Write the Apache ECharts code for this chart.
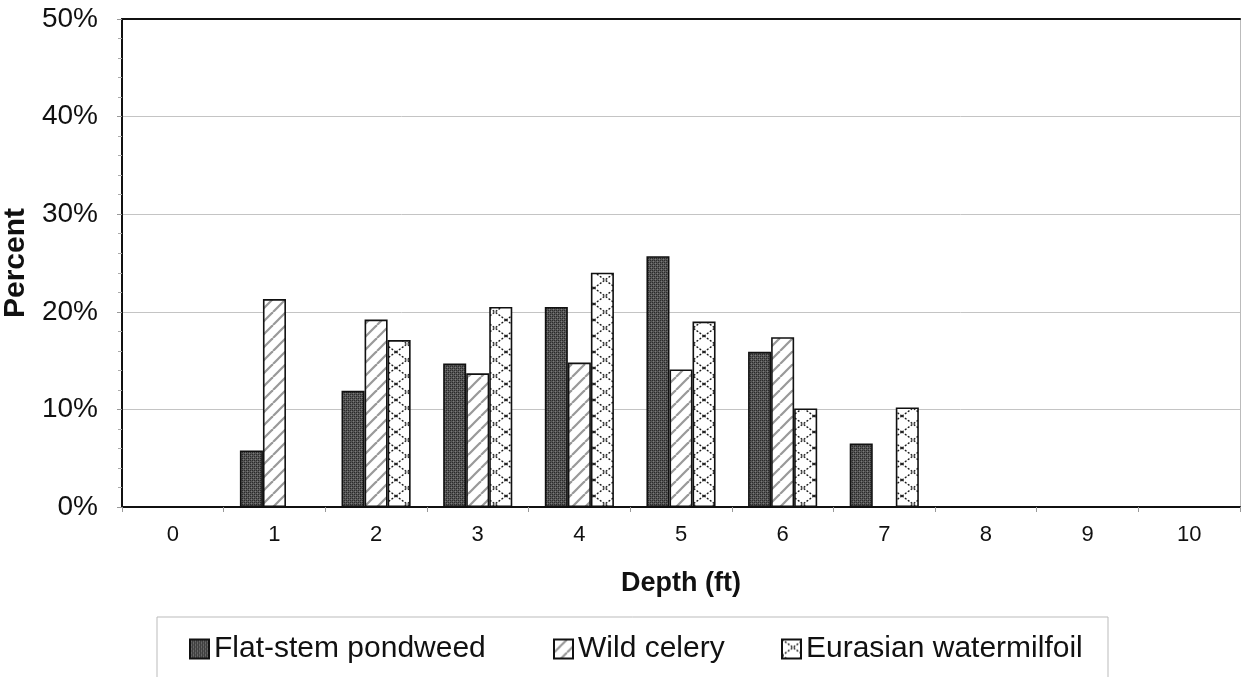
<!DOCTYPE html>
<html><head><meta charset="utf-8">
<script src="https://cdn.jsdelivr.net/npm/echarts@6/dist/echarts.min.js"></script>
<style>html,body{margin:0;padding:0;background:#fff}#c{width:1242px;height:677px}</style>
</head><body><div id="c"></div>
<script>
const categories = ['0','1','2','3','4','5','6','7','8','9','10'];
const flatStem = [0, 5.8, 11.9, 14.7, 20.5, 25.7, 15.9, 6.5, 0, 0, 0];
const wildCelery = [0, 21.3, 19.2, 13.7, 14.8, 14.1, 17.4, 0, 0, 0, 0];
const eurasian = [0, 0, 17.1, 20.5, 24.0, 19.0, 10.1, 10.2, 0, 0, 0];
const seriesNames = ['Flat-stem pondweed', 'Wild celery', 'Eurasian watermilfoil'];
const yTicks = [0, 10, 20, 30, 40, 50];

function mk(w, h, draw) { const c = document.createElement('canvas'); c.width = w; c.height = h; draw(c.getContext('2d'), w, h); return c; }
const darkPat = mk(4, 4, (g) => {
  g.fillStyle = '#555'; g.fillRect(0,0,4,4);
  g.fillStyle = '#2a2a2a'; g.fillRect(0,0,1,1); g.fillRect(2,2,1,1); g.fillRect(2,0,1,1); g.fillRect(0,2,1,1);
  g.fillStyle = '#7a7a7a'; g.fillRect(1,1,1,1); g.fillRect(3,3,1,1);
});
const diagPat = mk(13, 13, (g, w, h) => {
  g.fillStyle = '#fff'; g.fillRect(0,0,w,h);
  g.strokeStyle = '#999'; g.lineWidth = 2.2;
  for (let k = -1; k <= 1; k++) { g.beginPath(); g.moveTo(k*w, h); g.lineTo(k*w + w, 0); g.stroke(); }
});
const crossPat = mk(22, 16, (g, w, h) => {
  g.fillStyle = '#fff'; g.fillRect(0,0,w,h);
  g.strokeStyle = '#1a1a1a'; g.lineWidth = 1.4; g.setLineDash([2, 1.6]);
  g.beginPath(); g.moveTo(0,0); g.lineTo(w,h); g.stroke();
  g.beginPath(); g.moveTo(w,0); g.lineTo(0,h); g.stroke();
});

const chart = echarts.init(document.getElementById('c'));
const font = 'Liberation Sans, Arial, sans-serif';
function bar(name, data, pat) {
  return { name, type: 'bar', data, barGap: '0%', barCategoryGap: '32%',
    itemStyle: { color: { image: pat, repeat: 'repeat' }, borderColor: '#111', borderWidth: 1.6 } };
}
function leg(name, left) {
  return { data: [name], left, top: 634, padding: 0, itemWidth: 19, itemHeight: 19, icon: 'rect',
    textStyle: { fontFamily: font, fontSize: 30, color: '#111' } };
}
chart.setOption({
  animation: false,
  backgroundColor: '#fff',
  grid: { left: 122, right: 2, top: 19, bottom: 170, containLabel: false, outerBoundsMode: 'none' },
  legend: [leg(seriesNames[0], 189), leg(seriesNames[1], 553), leg(seriesNames[2], 781)],
  graphic: [{ type: 'rect', shape: { x: 157, y: 617, width: 951, height: 80 }, style: { fill: 'none', stroke: '#bbb', lineWidth: 1 }, z: -1 }],
  xAxis: [{
    type: 'category', data: categories,
    name: 'Depth (ft)', nameLocation: 'middle', nameGap: 63,
    nameTextStyle: { fontFamily: font, fontSize: 27, fontWeight: 'bold', color: '#111' },
    axisLine: { onZero: false, lineStyle: { color: '#111', width: 2 } },
    axisTick: { show: true, length: 5, lineStyle: { color: '#999' } },
    axisLabel: { fontFamily: font, fontSize: 22, color: '#111', margin: 17 }
  }, {
    type: 'category', data: categories, position: 'top',
    axisLine: { show: true, onZero: false, lineStyle: { color: '#111', width: 2 } },
    axisTick: { show: false }, axisLabel: { show: false }
  }],
  yAxis: [{
    type: 'value', min: 0, max: 50, interval: 10,
    name: 'Percent', nameLocation: 'middle', nameGap: 88, nameRotate: 90,
    nameTextStyle: { fontFamily: font, fontSize: 30, fontWeight: 'bold', color: '#111' },
    axisLine: { show: true, onZero: false, lineStyle: { color: '#111', width: 2 } },
    axisTick: { show: true, length: 5, lineStyle: { color: '#999' } },
    minorTick: { show: true, splitNumber: 5, length: 4, lineStyle: { color: '#aaa' } },
    splitLine: { show: true, lineStyle: { color: '#c4c4c4', width: 1 } },
    axisLabel: { fontFamily: font, fontSize: 28, color: '#111', margin: 24,
      formatter: v => yTicks.includes(v) ? v + '%' : '' }
  }, {
    type: 'value', min: 0, max: 50, interval: 10, position: 'right',
    axisLine: { show: true, onZero: false, lineStyle: { color: '#bbb', width: 1 } },
    axisTick: { show: false }, axisLabel: { show: false }, splitLine: { show: false }
  }],
  series: [bar(seriesNames[0], flatStem, darkPat), bar(seriesNames[1], wildCelery, diagPat), bar(seriesNames[2], eurasian, crossPat)]
});
</script></body></html>
